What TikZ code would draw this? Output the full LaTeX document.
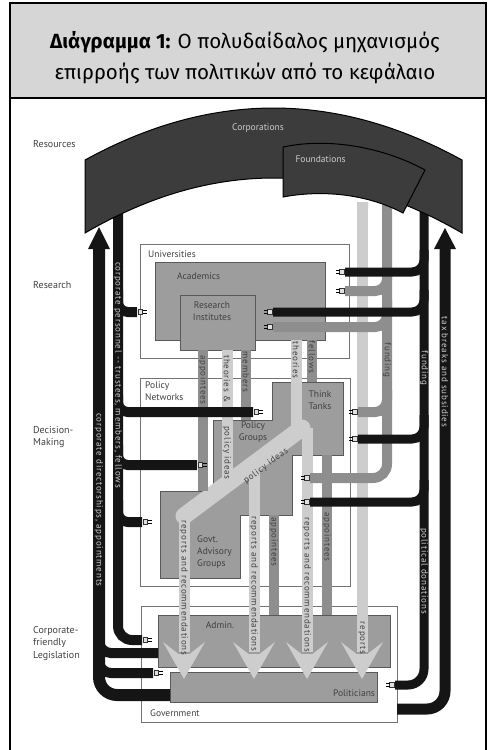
\documentclass[tikz,border=0pt]{standalone}
\usepackage{fontspec}
\setmainfont{PT Sans}
\newfontfamily\titlefont{Fira Sans}
\newfontfamily\bandfamily[LetterSpace=9]{PT Sans}
\usetikzlibrary{calc,positioning}

\definecolor{headgray}{HTML}{D6D6D6}
\definecolor{boxgray}{HTML}{9D9D9D}
\definecolor{bandlight}{HTML}{CDCDCD}
\definecolor{bandmid}{HTML}{8E8E8E}
\definecolor{bandblack}{HTML}{151515}
\definecolor{corpgray}{HTML}{3C3C3C}

\tikzset{
  plug/.pic={
    \fill[black!12,draw=black!80,line width=0.4] (0,-2.6) rectangle (4.5,2.6);
    \draw[line width=1] (4.5,-1.3) -- (8.5,-1.3) (4.5,1.3) -- (8.5,1.3);
  }
}

\begin{document}
\begin{tikzpicture}[x=1pt,y=-1pt,
  frame/.style={draw=black!55,line width=0.8},
  box/.style={draw=black!65,fill=boxgray,line width=0.8},
  lightband/.style={draw=bandlight,line width=11},
  midband/.style={draw=bandmid,line width=10},
  blackband/.style={draw=bandblack,line width=10},
  lbl/.style={font=\fontsize{10}{12.5}\selectfont,text=black!75,align=left,inner sep=0},
  boxlbl/.style={font=\fontsize{9.5}{12}\selectfont,text=black!75,align=left,inner sep=0},
  bandtxt/.style={font=\bandfamily\fontsize{9}{9}\selectfont,rotate=-90,inner sep=0,text=black!75},
  slanttxt/.style={font=\bandfamily\fontsize{9}{9}\selectfont,rotate=37,inner sep=0,text=black!75},
  whitetxt/.style={bandtxt,text=white!82!black},
  headarrow/.style={fill=bandlight}]
  \useasboundingbox (0,0) rectangle (490,750);

  % header and frame
  \fill[headgray] (10,3) rectangle (486,98);
  \draw[line width=1.2] (10,752) -- (10,3) -- (486,3) -- (486,752);
  \draw[line width=1.2] (10,98) -- (486,98);
  \node[font=\titlefont\fontsize{20.5}{31}\selectfont,align=center] (title) at (245,58)
    {\textbf{Διάγραμμα 1:} Ο πολυδαίδαλος μηχανισμός\\επιρροής των πολιτικών από το κεφάλαιο};

  % levels
  \node[lbl,anchor=west] (lres) at (33,144) {Resources};
  \node[lbl,anchor=west] (lrsch) at (33,285) {Research};
  \node[lbl,anchor=north west] (ldec) at (33,426) {Decision-\\Making};
  \node[lbl,anchor=north west] (lleg) at (33,626) {Corporate-\\friendly\\Legislation};

  % institutions
  \draw[frame] (140,244) rectangle (349,358);
  \draw[frame] (140,378) rectangle (350,586);
  \draw[frame] (141,606) rectangle (397,722);
  \draw[box] (155,262) rectangle (325,340);
  \draw[box] (180,295) rectangle (255,350);
  \draw[box] (272,382) -- (343,382) -- (343,455) -- (292,455) -- (292,515) -- (240,515)
    -- (240,578) -- (160,578) -- (160,491) -- (213,491) -- (213,420) -- (272,420) -- cycle;
  \draw[box] (158,615) rectangle (390,667);
  \draw[box] (170,672) rectangle (377,702);

  % light flows
  \draw[lightband] (362,202) -- (362,652);
  \draw[lightband] (296,340) -- (296,425);
  \draw[lightband] (227,350) -- (227,484);
  \draw[lightband,line width=17,line cap=round] (302,428) -- (184,516);
  \draw[lightband] (184,516) -- (184,652);
  \draw[lightband] (254,464) -- (254,652);
  \draw[lightband] (307,428) -- (307,652);

  % medium flows
  \draw[midband] (203,350) -- (203,491);
  \draw[midband] (246,350) -- (246,420);
  \draw[midband] (312,340) -- (312,382);
  \draw[midband] (274,515) -- (274,615);
  \draw[midband] (327,455) -- (327,615);
  \draw[midband,rounded corners=14] (387,205) |- (310,478);
  \draw[midband,rounded corners=12] (345,291) -| (387,270);
  \draw[midband,rounded corners=12] (273,327) -| (387,300);
  \draw[midband,rounded corners=12] (358,412) -| (387,390);

  % black flows, right
  \draw[blackband,line width=9,rounded corners=16] (424,205) |- (395,685);
  \draw[blackband,line width=9,rounded corners=12] (345,272) -| (424,250);
  \draw[blackband,line width=9,rounded corners=12] (273,312) -| (424,290);
  \draw[blackband,line width=9,rounded corners=12] (358,439) -| (424,415);
  \draw[blackband,line width=9,rounded corners=12] (310,502) -| (424,480);
  \draw[blackband,line width=11,rounded corners=18] (397,709) -| (445,246);
  \fill[bandblack] (445,228) -- (456,249) -- (434,249) -- cycle;

  % black flows, left
  \draw[blackband,rounded corners=14] (118,205) |- (142,640);
  \draw[blackband,rounded corners=10] (118,290) |- (137,312);
  \draw[blackband,rounded corners=10] (118,395) |- (253,412);
  \draw[blackband,rounded corners=10] (118,445) |- (197,465);
  \draw[blackband,rounded corners=10] (118,500) |- (142,522);
  \draw[blackband,line width=12,rounded corners=18] (170,695) -| (99,246);
  \draw[blackband,rounded corners=12] (99,630) |- (158,653);
  \draw[blackband,rounded corners=12] (99,650) |- (153,673);
  \fill[bandblack] (99,227) -- (110,249) -- (88,249) -- cycle;

  % arrows into politicians
  \foreach \ax in {184,254,307,362}
    \fill[headarrow] (\ax-5.5,654) -- (\ax-21,642) -- (\ax,679) -- (\ax+21,642) -- (\ax+5.5,654) -- cycle;

  % corporations and foundations
  \draw[fill=corpgray,line width=1] (85,160) .. controls (211,90.7) and (336,90.7) .. (462,160)
    -- (462,233) .. controls (336,159.7) and (211,159.7) .. (85,233) -- cycle;
  \draw[fill=corpgray,line width=1] (283,147) .. controls (330,137) and (385,148) .. (425,170)
    -- (403,213) .. controls (365,193) and (320,190) .. (283,197) -- cycle;
  \node[font=\fontsize{9.5}{11}\selectfont,text=white!80!black] (corp) at (258,128) {Corporations};
  \node[font=\fontsize{9.5}{11}\selectfont,text=white!80!black,anchor=west] (found) at (292,159) {Foundations};

  % plugs
  \foreach \px/\py in {138/312,254/412,198/465,143/522,143/640,154/673}
    \pic at (\px,\py) {plug};
  \foreach \px/\py in {344/272,344/291,272/312,272/327,357/412,357/439,309/478,309/502,394/685}
    \pic[xscale=-1] at (\px,\py) {plug};

  % box labels
  \node[boxlbl,anchor=west] (univ) at (148,254) {Universities};
  \node[boxlbl,anchor=north west] (polnet) at (145,382) {Policy\\Networks};
  \node[boxlbl,anchor=west] (govt) at (150,713) {Government};
  \node[boxlbl,anchor=west] (acad) at (177,276) {Academics};
  \node[boxlbl,align=center] (resinst) at (212,311) {Research\\Institutes};
  \node[boxlbl,align=center] (thinkt) at (320,400) {Think\\Tanks};
  \node[boxlbl,align=center] (polgr) at (253,432) {Policy\\Groups};
  \node[boxlbl,anchor=north west] (advgr) at (197,536) {Govt.\\Advisory\\Groups};
  \node[boxlbl] (admin) at (220,625) {Admin.};
  \node[boxlbl] (polit) at (354,693) {Politicians};

  % flow labels
  \node[whitetxt] (tpers) at (118,375) {corporate personnel -- trustees, members, fellows};
  \node[whitetxt] (tdir) at (99,500) {corporate directorships, appointments};
  \node[whitetxt] (ttax) at (445,372) {tax breaks and subsidies};
  \node[whitetxt] (tfund) at (424,368) {funding};
  \node[whitetxt] (tdon) at (424,571) {political donations};
  \node[bandtxt] (tfundg) at (387,360) {funding};
  \node[bandtxt] (tapp) at (203,380) {appointees};
  \node[bandtxt] (tthe) at (227,379) {theories \&};
  \node[bandtxt] (tpol) at (227,453) {policy ideas};
  \node[bandtxt] (tmem) at (246,372) {members};
  \node[bandtxt] (ttheo) at (296,360) {theories};
  \node[bandtxt] (tfel) at (312,357) {fellows};
  \node[slanttxt] (tideas) at (266,466) {policy ideas};
  \node[bandtxt] (trr1) at (184,588) {reports and recommendations};
  \node[bandtxt] (trr2) at (254,584) {reports and recommendations};
  \node[bandtxt] (tapp1) at (274,542) {appointees};
  \node[bandtxt] (trr3) at (307,585) {reports and recommendations};
  \node[bandtxt] (tapp2) at (327,537) {appointees};
  \node[bandtxt] (trep) at (362,638) {reports};
\end{tikzpicture}
\end{document}
